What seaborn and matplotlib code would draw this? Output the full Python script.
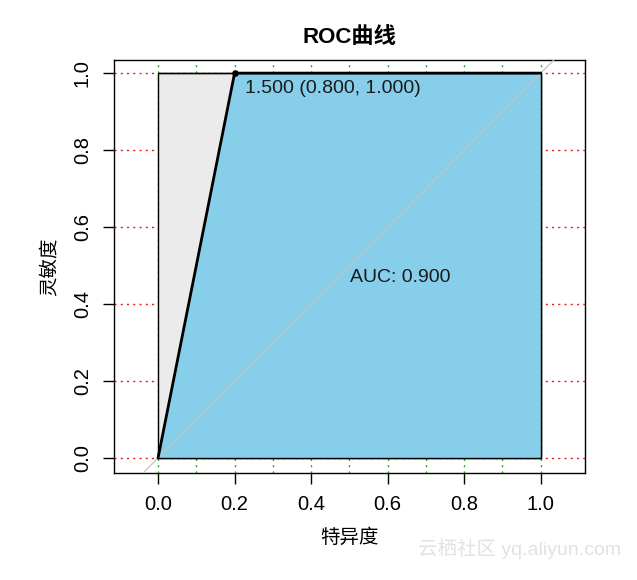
import numpy as np
import pandas as pd
import matplotlib
matplotlib.use("Agg")
import matplotlib.pyplot as plt
import seaborn as sns

# 数据
spec = [0.0, 0.2, 1.0]
sens = [0.0, 1.0, 1.0]
auc = 0.900
best_thr = 1.500
best_spec, best_sens = 0.800, 1.000

x_ticks = [0.0, 0.2, 0.4, 0.6, 0.8, 1.0]
y_ticks = [0.0, 0.2, 0.4, 0.6, 0.8, 1.0]
x_grid = [0.0, 0.1, 0.2, 0.3, 0.4, 0.5, 0.6, 0.7, 0.8, 0.9, 1.0]

sns.set_style("ticks")
plt.rcParams['font.family'] = ['Liberation Sans', 'Noto Sans CJK SC', 'DejaVu Sans']
plt.rcParams['text.color'] = 'black'
plt.rcParams['axes.labelcolor'] = 'black'

roc = pd.DataFrame({'spec': spec, 'sens': sens})

fig = plt.figure(figsize=(6.37, 5.80), dpi=100)
ax = fig.add_axes([0.179, 0.1845, 0.739, 0.712])
ax.set_xlim(-0.115, 1.115)
ax.set_ylim(-0.039, 1.034)

# 网格线
for g in x_grid:
    ax.axvline(g, color='#22AA22', lw=1, ls=(0, (1.5, 3)), zorder=1)
for g in y_ticks:
    ax.axhline(g, color='#DD2222', lw=1, ls=(0, (1.5, 3)), zorder=1)

# 灰色背景区域和AUC区域
ax.fill([0, 0, 1, 1], [0, 1, 1, 0], facecolor='#EBEBEB', edgecolor='black', lw=1, zorder=2)
ax.fill(spec + [1.0], sens + [0.0], facecolor='#87CEEB', edgecolor='none', zorder=3)
ax.plot([0, 1, 1, 0], [1, 1, 0, 0], color='black', lw=1, zorder=4)

# 对角线
ax.plot([-0.2, 1.2], [-0.2, 1.2], color='#C4C4C4', lw=0.9, zorder=4)

# ROC曲线
sns.lineplot(data=roc, x='spec', y='sens', sort=False, color='black', lw=2,
             ax=ax, zorder=5)
ax.scatter([1 - best_spec], [best_sens], color='black', s=14, zorder=6)
ax.text(1 - best_spec + 0.027, best_sens - 0.04,
        f"{best_thr:.3f} ({best_spec:.3f}, {best_sens:.3f})",
        fontsize=14, color='#1a1a1a', ha='left', va='center', zorder=7)
ax.text(0.634, 0.47, f"AUC: {auc:.3f}", fontsize=14, color='#1a1a1a',
        ha='center', va='center', zorder=7)

ax.set_xticks(x_ticks)
ax.set_xticklabels([f"{v:.1f}" for v in x_ticks])
ax.set_yticks(y_ticks)
ax.set_yticklabels([f"{v:.1f}" for v in y_ticks], rotation=90, va='center')
ax.tick_params(axis='both', direction='out', length=8, width=1, labelsize=14.5,
               colors='black', pad=8)
for s in ax.spines.values():
    s.set_visible(True)
    s.set_color('black')
    s.set_linewidth(1)

ax.set_xlabel("特异度", fontsize=14, labelpad=10)
ax.set_ylabel("灵敏度", fontsize=14, labelpad=10)
ax.set_title("ROC曲线", fontsize=16, fontweight='bold', pad=12)

# 水印
fig.text(0.975, 0.055, "云栖社区 yq.aliyun.com", fontsize=14, color='#E2E2E2',
         ha='right', va='center')

fig.savefig("out.png", dpi=100)
